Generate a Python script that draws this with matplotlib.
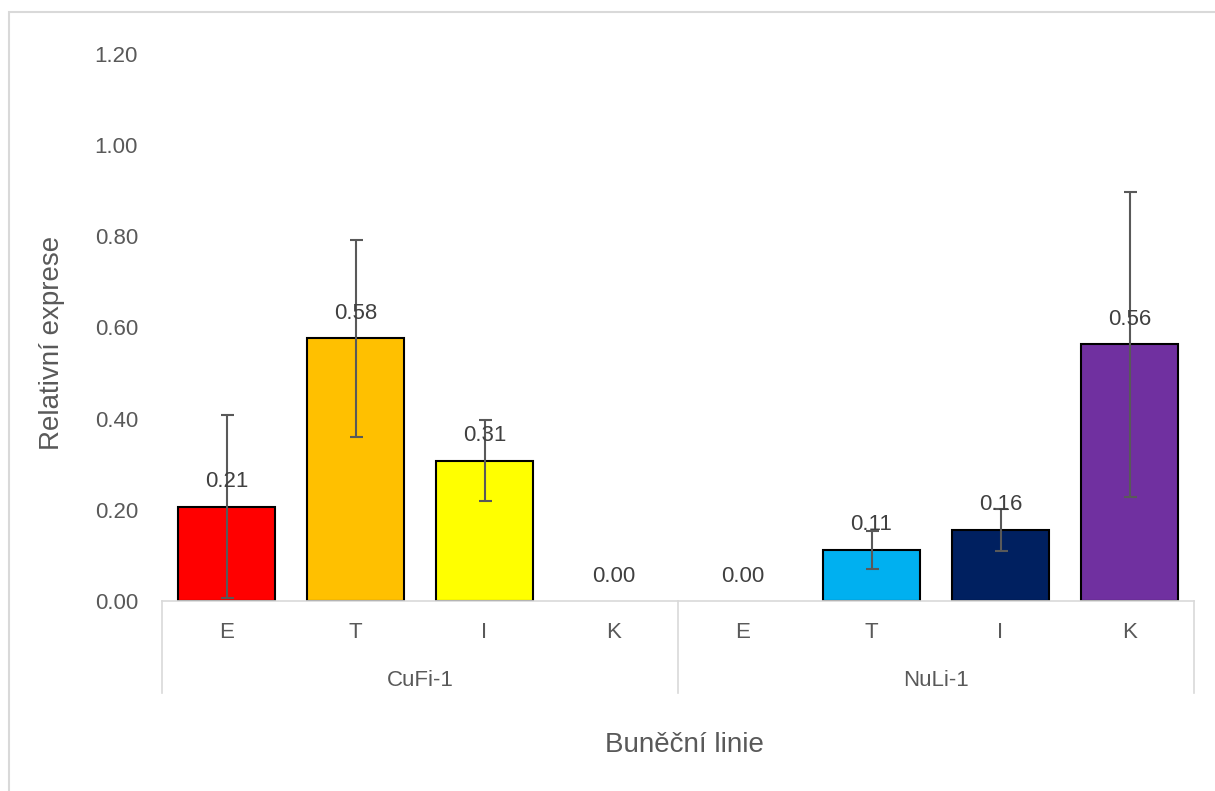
import numpy as np
import matplotlib.pyplot as plt
from matplotlib.lines import Line2D
from matplotlib.patches import Rectangle

plt.rcParams['font.family'] = ['Liberation Sans', 'DejaVu Sans']

# data
groups = ['CuFi-1', 'NuLi-1']
subcats = ['E', 'T', 'I', 'K']
cufi_vals = [0.207, 0.576, 0.308, 0.0]
cufi_err = [0.200, 0.216, 0.088, 0.0]
nuli_vals = [0.0, 0.112, 0.156, 0.563]
nuli_err = [0.0, 0.041, 0.046, 0.335]
bar_colors = ['#FF0000', '#FFC000', '#FFFF00', '#FFFFFF',
              '#FFFFFF', '#00B0F0', '#002060', '#7030A0']

vals = cufi_vals + nuli_vals
errs = cufi_err + nuli_err
x = np.arange(len(vals))

W, H = 1215, 791
PX = 72 / 100  # points per pixel
fig = plt.figure(figsize=(W / 100, H / 100), dpi=100)
ax = fig.add_axes([162 / W, (H - 601) / H, (1194 - 162) / W, (601 - 54) / H])

txt = '#595959'
grid_c = '#D9D9D9'

lw = [1.5 if v > 0 else 0 for v in vals]
ax.bar(x, vals, width=0.75, color=bar_colors, edgecolor='black', linewidth=lw, zorder=2)
for xi, v, e in zip(x, vals, errs):
    if e > 0:
        ax.errorbar(xi, v, yerr=e, fmt='none', ecolor=txt, elinewidth=1.5,
                    capsize=6.5 * PX, capthick=1.5, zorder=3)
    ax.annotate(f'{v:.2f}', (xi, v), xytext=(0, 25 * PX), textcoords='offset points',
                ha='center', va='center', fontsize=16, color='#404040', zorder=4)

ax.set_xlim(-0.5, len(vals) - 0.5)
ax.set_ylim(0, 1.2)
ax.set_yticks(np.arange(0, 1.21, 0.2))
ax.set_yticklabels([f'{t:.2f}' for t in np.arange(0, 1.21, 0.2)])
ax.tick_params(axis='y', length=0, labelsize=16, labelcolor=txt, pad=24 * PX)
ax.set_xticks([])
for s in ['top', 'right', 'left']:
    ax.spines[s].set_visible(False)
ax.spines['bottom'].set_color(grid_c)
ax.spines['bottom'].set_linewidth(1.2)

# multi-level category axis
trans = ax.get_xaxis_transform()
for xi, lab in zip(x, subcats * 2):
    ax.annotate(lab, (xi, 0), xytext=(0, -31 * PX), textcoords='offset points',
                xycoords=trans, ha='center', va='center', fontsize=16, color=txt)
for gi, g in enumerate(groups):
    ax.annotate(g, (gi * 4 + 1.5, 0), xytext=(0, -79 * PX), textcoords='offset points',
                xycoords=trans, ha='center', va='center', fontsize=16, color=txt)
sep_y = -(693 - 601) / (601 - 54)
for xs in [-0.5, 3.5, 7.5]:
    ax.add_line(Line2D([xs, xs], [0, sep_y], transform=trans, color=grid_c,
                       linewidth=1.2, clip_on=False))

fig.text(684 / W, 1 - 745 / H, 'Buněční linie', ha='center', va='center',
         fontsize=20, color=txt)
fig.text(52 / W, 1 - 343 / H, 'Relativní exprese', ha='center', va='center',
         rotation=90, fontsize=20, color=txt)

# chart border
fig.patches.append(Rectangle((9 / W, -0.1), 1.2, 1 - 12 / H + 0.1,
                             transform=fig.transFigure, fill=False,
                             edgecolor=grid_c, linewidth=1.5))

fig.savefig('out.png', dpi=100)
